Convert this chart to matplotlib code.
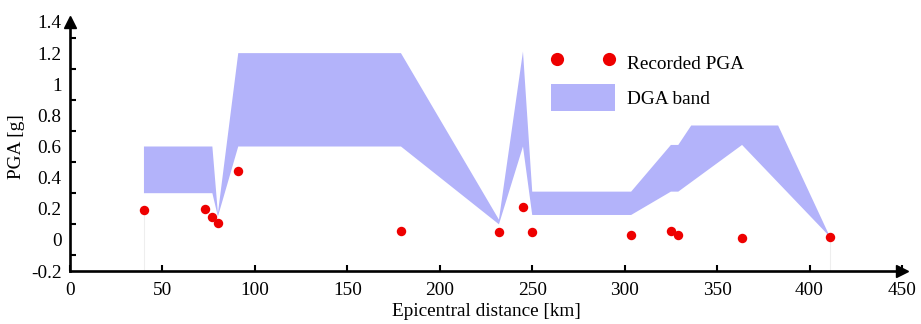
import numpy as np
import matplotlib
matplotlib.use("Agg")
import matplotlib.pyplot as plt
from matplotlib.patches import Patch
from matplotlib.lines import Line2D

# Recorded peak ground acceleration at each station
dist_km = [40, 73, 77, 80, 91, 179, 232, 245, 250, 303.5, 325, 329, 363.5, 411]
pga_g = [0.19, 0.20, 0.15, 0.11, 0.44, 0.06, 0.05, 0.21, 0.05, 0.03, 0.06, 0.03, 0.01, 0.02]

# Upper and lower edges of the design ground acceleration band
upper_x = [40, 77, 80, 91, 179, 232, 245, 250, 303.5, 325, 329, 336, 383, 411]
upper_y = [0.60, 0.60, 0.17, 1.20, 1.20, 0.13, 1.21, 0.31, 0.31, 0.61, 0.61, 0.735, 0.735, 0.02]
lower_x = [40, 77, 80, 91, 179, 232, 245, 250, 303.5, 325, 329, 363.5, 411]
lower_y = [0.30, 0.30, 0.15, 0.60, 0.60, 0.10, 0.60, 0.16, 0.16, 0.31, 0.31, 0.61, 0.02]

x_ticks = [0, 50, 100, 150, 200, 250, 300, 350, 400, 450]
y_labels = [-0.2, 0, 0.2, 0.4, 0.6, 0.8, 1, 1.2, 1.4]
y_marks = [-0.1, 0.1, 0.3, 0.5, 0.7, 0.9, 1.1, 1.3]

plt.rcParams['font.family'] = ['Liberation Serif', 'DejaVu Serif']

band_color = '#b3b3fa'
dot_color = '#ee0000'
fs = 13.9

fig = plt.figure(figsize=(9.21, 3.24), dpi=100)
ax = fig.add_axes([70 / 921, 1 - 271 / 324, (902 - 70) / 921, (271 - 22) / 324])
ax.set_xlim(0, 450)
ax.set_ylim(-0.2, 1.4)

# band polygon: along the upper edge, back along the lower edge
poly_x = list(upper_x) + list(lower_x[::-1])
poly_y = list(upper_y) + list(lower_y[::-1])
ax.fill(poly_x, poly_y, color=band_color, lw=0, zorder=2)

# faint drop lines at the ends of the station range
ax.vlines([dist_km[0], dist_km[-1]], -0.2, [pga_g[0], pga_g[-1]],
          color='#eeeeee', lw=0.8, zorder=1)

ax.plot(dist_km, pga_g, 'o', color=dot_color, ms=6.8, mec='none', zorder=3)

# axes with arrow heads
for s in ['top', 'right']:
    ax.spines[s].set_visible(False)
for s in ['left', 'bottom']:
    ax.spines[s].set_linewidth(1.9)
ax.plot(1, 0, '>', color='k', ms=9, transform=ax.transAxes, clip_on=False, zorder=5)
ax.plot(0, 1, '^', color='k', ms=9, transform=ax.transAxes, clip_on=False, zorder=5)

ax.set_xticks(x_ticks)
ax.set_xticklabels([str(v) for v in x_ticks], fontsize=fs)
ax.tick_params(axis='x', direction='in', length=4, width=1.5, pad=8)

ax.set_yticks(y_labels)
ax.set_yticklabels([f'{v:g}' for v in y_labels], fontsize=fs)
ax.set_yticks(y_marks, minor=True)
ax.tick_params(axis='y', which='major', length=0, pad=6)
ax.tick_params(axis='y', which='minor', direction='in', length=4, width=1.5)

ax.set_xlabel('Epicentral distance [km]', fontsize=fs, labelpad=3)
ax.set_ylabel('PGA [g]', fontsize=fs, labelpad=4)

handles = [
    Line2D([], [], ls='none', marker='o', color=dot_color, mec='none', ms=9.5),
    Patch(facecolor=band_color, edgecolor='none'),
]
fig.legend(handles, ['Recorded PGA', 'DGA band'], loc='upper left',
           bbox_to_anchor=(551 / 921, 1 - 49 / 324), frameon=False,
           numpoints=2, fontsize=fs, handlelength=3.3, handleheight=1.75,
           handletextpad=0.65, labelspacing=0.45, borderpad=0, borderaxespad=0)

fig.savefig('out.png', dpi=100)
